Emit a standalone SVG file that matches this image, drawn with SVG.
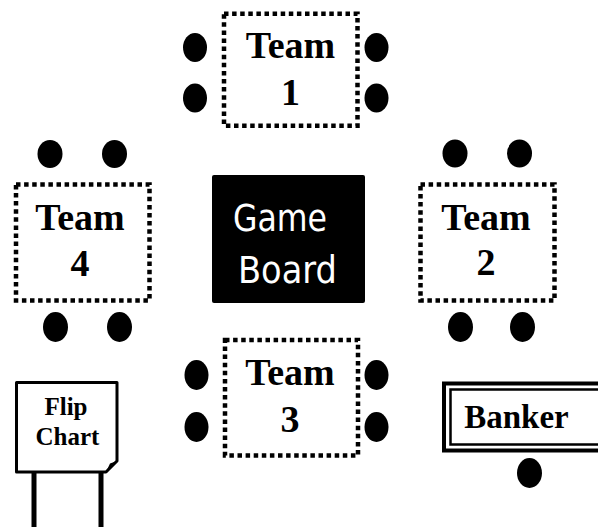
<svg xmlns="http://www.w3.org/2000/svg" width="598" height="527" viewBox="0 0 598 527">
<style>
.tbl{fill:#fff;stroke:#000;stroke-width:4.5;stroke-dasharray:4.5 3.6}
.seat{fill:#000}
.tt{font-family:"Liberation Serif","Times New Roman",serif;font-weight:bold;font-size:38px;fill:#000;text-anchor:middle}
.gb{font-family:"DejaVu Sans","Liberation Sans",sans-serif;font-size:37px;fill:#fff}
.fc{font-family:"Liberation Serif","Times New Roman",serif;font-weight:bold;font-size:25px;fill:#000;text-anchor:middle}
.bk{font-family:"Liberation Serif","Times New Roman",serif;font-weight:bold;font-size:33px;fill:#000;text-anchor:middle}
</style>
<rect width="598" height="527" fill="#fff"/>
<g id="team1">
<rect class="tbl" x="224" y="13.7" width="133.5" height="112"/>
<text class="tt" x="290.5" y="58">Team</text>
<text class="tt" x="290.5" y="105">1</text>
<ellipse class="seat" cx="195" cy="47.5" rx="12" ry="14.5"/>
<ellipse class="seat" cx="195" cy="98" rx="12" ry="14.5"/>
<ellipse class="seat" cx="376.5" cy="47.5" rx="12" ry="14.5"/>
<ellipse class="seat" cx="376.5" cy="98" rx="12" ry="14.5"/>
</g>
<g id="team2">
<rect class="tbl" x="420.5" y="184.5" width="134" height="116"/>
<text class="tt" x="486" y="230">Team</text>
<text class="tt" x="486" y="275">2</text>
<ellipse class="seat" cx="455" cy="153.5" rx="12.5" ry="14"/>
<ellipse class="seat" cx="519.5" cy="153.5" rx="12.5" ry="14"/>
<ellipse class="seat" cx="460.5" cy="327" rx="12.5" ry="15"/>
<ellipse class="seat" cx="522.5" cy="327" rx="12.5" ry="15"/>
</g>
<g id="team3">
<rect class="tbl" x="225" y="340" width="133" height="115.5"/>
<text class="tt" x="290" y="385">Team</text>
<text class="tt" x="290" y="432">3</text>
<ellipse class="seat" cx="196.5" cy="375" rx="12" ry="15"/>
<ellipse class="seat" cx="196.5" cy="427" rx="12" ry="15"/>
<ellipse class="seat" cx="376.5" cy="375" rx="12" ry="15"/>
<ellipse class="seat" cx="376.5" cy="427" rx="12" ry="15"/>
</g>
<g id="team4">
<rect class="tbl" x="16" y="184.5" width="133.5" height="116"/>
<text class="tt" x="80" y="230">Team</text>
<text class="tt" x="80" y="275.5">4</text>
<ellipse class="seat" cx="50" cy="154" rx="12.5" ry="14"/>
<ellipse class="seat" cx="114.5" cy="154" rx="12.5" ry="14"/>
<ellipse class="seat" cx="55.5" cy="327" rx="12.5" ry="15"/>
<ellipse class="seat" cx="119.5" cy="327" rx="12.5" ry="15"/>
</g>
<g id="gameboard">
<rect x="212" y="175" width="153" height="128" rx="2" fill="#000"/>
<text class="gb" x="233" y="231" textLength="94" lengthAdjust="spacingAndGlyphs">Game</text>
<text class="gb" x="238" y="283" textLength="99" lengthAdjust="spacingAndGlyphs">Board</text>
</g>
<g id="flipchart">
<rect x="31.5" y="470" width="5" height="60" fill="#000"/>
<rect x="98.5" y="470" width="5" height="60" fill="#000"/>
<path d="M16.5,382.5 H117 V461 L106,472 H16.5 Z" fill="#fff" stroke="#000" stroke-width="3" stroke-linejoin="round"/>
<path d="M117,461 L110,463.5 L106,472 Z" fill="#000"/>
<text class="fc" x="66" y="415">Flip</text>
<text class="fc" x="67.5" y="445">Chart</text>
</g>
<g id="banker">
<rect x="444" y="383.5" width="170" height="67" fill="#fff" stroke="#000" stroke-width="4"/>
<rect x="450.5" y="389.5" width="160" height="55" fill="none" stroke="#000" stroke-width="2.5"/>
<text class="bk" x="516.5" y="428">Banker</text>
<ellipse class="seat" cx="529.5" cy="473" rx="12.5" ry="15"/>
</g>
<g id="connectors"></g>
</svg>
